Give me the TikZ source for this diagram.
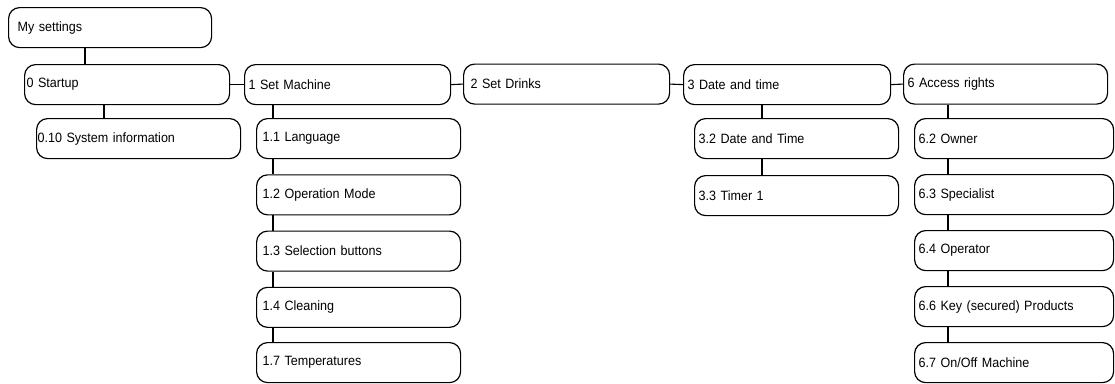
\documentclass[tikz,border=0pt]{standalone}
\usepackage{fontspec}
\setmainfont{Liberation Sans}[FakeStretch=0.93]
\begin{document}
\begin{tikzpicture}[x=1pt,y=-1pt,
  box/.style={draw, line width=1.2pt, rounded corners=11pt, anchor=north west,
    minimum height=40pt, inner xsep=#1, inner ysep=0pt, align=left,
    font=\fontsize{13.5}{15}\selectfont},
  box/.default=4pt,
  conn/.style={line width=1.1pt}]
\useasboundingbox (0,0) rectangle (1115,383);
% column x-positions of vertical connectors
\coordinate (c0) at (85,0);
\coordinate (c1) at (104,0);
\coordinate (c2) at (273,0);
\coordinate (c3) at (762,0);
\coordinate (c4) at (948,0);
% nodes
\node[box=9pt, text width=185pt] (ms) at (8,7) {My settings};
\node[box=2pt, text width=201pt] (s0) at (24,64) {0 Startup};
\node[box=1pt, text width=202pt] (s010) at (36,118) {0.10 System information};
\node[box=4pt, text width=198pt] (s1) at (244,64) {1 Set Machine};
\node[box=6pt, text width=192pt] (s11) at (256,118) {1.1 Language};
\node[box=6pt, text width=192pt] (s12) at (256,174.25) {1.2 Operation Mode};
\node[box=6pt, text width=192pt] (s13) at (256,230.5) {1.3 Selection buttons};
\node[box=6pt, text width=192pt] (s14) at (256,286.75) {1.4 Cleaning};
\node[box=6pt, text width=192pt] (s17) at (256,342) {1.7 Temperatures};
\node[box=7pt, text width=192pt] (s2) at (463,63.5) {2 Set Drinks};
\node[box=4pt, text width=199pt] (s3) at (683,64) {3 Date and time};
\node[box=4pt, text width=196pt] (s32) at (694,118) {3.2 Date and Time};
\node[box=4pt, text width=196pt] (s33) at (694,175) {3.3 Timer 1};
\node[box=4pt, text width=196pt] (s6) at (903,63.5) {6 Access rights};
\node[box=4pt, text width=191pt] (s62) at (914,118) {6.2 Owner};
\node[box=4pt, text width=191pt] (s63) at (914,174) {6.3 Specialist};
\node[box=4pt, text width=191pt] (s64) at (914,230) {6.4 Operator};
\node[box=4pt, text width=191pt] (s66) at (914,286) {6.6 Key (secured) Products};
\node[box=4pt, text width=191pt] (s67) at (914,342) {6.7 On/Off Machine};
% horizontal connectors
\draw[conn] (s0.east) -- (s1.west);
\draw[conn] (s1.east) -- (s2.west);
\draw[conn] (s2.east) -- (s3.west);
\draw[conn] (s3.east) -- (s6.west);
% vertical connectors
\draw[conn] (ms.south -| c0) -- (s0.north -| c0);
\draw[conn] (s0.south -| c1) -- (s010.north -| c1);
\draw[conn] (s1.south -| c2) -- (s11.north -| c2);
\draw[conn] (s11.south -| c2) -- (s12.north -| c2);
\draw[conn] (s12.south -| c2) -- (s13.north -| c2);
\draw[conn] (s13.south -| c2) -- (s14.north -| c2);
\draw[conn] (s14.south -| c2) -- (s17.north -| c2);
\draw[conn] (s3.south -| c3) -- (s32.north -| c3);
\draw[conn] (s32.south -| c3) -- (s33.north -| c3);
\draw[conn] (s6.south -| c4) -- (s62.north -| c4);
\draw[conn] (s62.south -| c4) -- (s63.north -| c4);
\draw[conn] (s63.south -| c4) -- (s64.north -| c4);
\draw[conn] (s64.south -| c4) -- (s66.north -| c4);
\draw[conn] (s66.south -| c4) -- (s67.north -| c4);
\end{tikzpicture}
\end{document}
